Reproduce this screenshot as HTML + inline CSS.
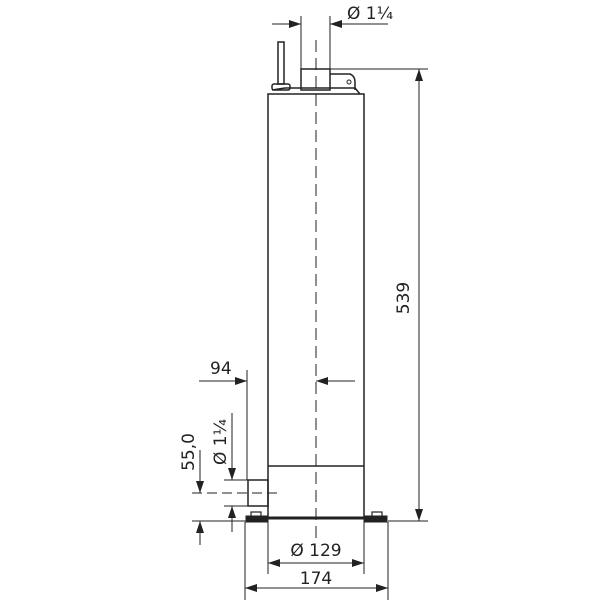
<!DOCTYPE html>
<html><head><style>body{margin:0;background:#fff}svg{display:block}text{font-family:"DejaVu Sans","Liberation Sans",sans-serif;fill:#222;stroke:none}</style></head>
<body>
<svg width="600" height="600" viewBox="0 0 600 600" xmlns="http://www.w3.org/2000/svg" stroke="#222" fill="none" stroke-width="1">
<defs>
<marker id="a" viewBox="0 0 12 8" refX="12" refY="4" markerWidth="12" markerHeight="8" orient="auto-start-reverse" markerUnits="userSpaceOnUse"><path d="M0,0 L12,4 L0,8 Z" fill="#222" stroke="none"/></marker>
</defs>
<!-- top dimension Ø1¼ -->
<line x1="272" y1="24" x2="301" y2="24" marker-end="url(#a)"/>
<line x1="330" y1="24" x2="388" y2="24" marker-start="url(#a)"/>
<line x1="301" y1="16" x2="301" y2="69"/>
<line x1="330" y1="16" x2="330" y2="69"/>
<text x="347" y="19" font-size="17">Ø 1¼</text>
<!-- cap -->
<rect x="301" y="69" width="29" height="21" stroke-width="1.5"/>
<path d="M330,74 L350,74 Q355,76 355,82 L355,90" stroke-width="1.5"/>
<circle cx="349" cy="82" r="2"/>
<path d="M272,90 L285,88 L355,88 L360,94" stroke-width="1.5"/>
<!-- cable -->
<rect x="278" y="42" width="6" height="42" stroke-width="1.5"/>
<rect x="272" y="84" width="18" height="6" rx="2" stroke-width="1.5"/>
<!-- body -->
<rect x="268" y="94" width="96" height="424" stroke-width="1.5"/>
<line x1="268" y1="466" x2="364" y2="466" stroke-width="1.5"/>
<line x1="316" y1="40" x2="316" y2="540" stroke-dasharray="12,6"/>
<!-- 539 -->
<line x1="330" y1="69" x2="428" y2="69"/>
<line x1="388" y1="521" x2="428" y2="521"/>
<line x1="419" y1="69" x2="419" y2="521" marker-start="url(#a)" marker-end="url(#a)"/>
<text transform="translate(409,298) rotate(-90)" font-size="17" text-anchor="middle">539</text>
<!-- base -->
<line x1="268" y1="518" x2="364" y2="518" stroke-width="3"/>
<rect x="246" y="516" width="22" height="6" fill="#222"/>
<rect x="364" y="516" width="23" height="6" fill="#222"/>
<rect x="251" y="512" width="10" height="5" stroke-width="1.2"/>
<rect x="372" y="512" width="10" height="5" stroke-width="1.2"/>
<!-- outlet -->
<rect x="248" y="480" width="20" height="26" stroke-width="1.5"/>
<line x1="192" y1="493" x2="278" y2="493" stroke-dasharray="10,5"/>
<!-- 94 -->
<line x1="199" y1="381" x2="247" y2="381" marker-end="url(#a)"/>
<line x1="247" y1="370" x2="247" y2="480"/>
<line x1="355" y1="381" x2="316" y2="381" marker-end="url(#a)"/>
<text x="210" y="374" font-size="17">94</text>
<!-- Ø1¼ side -->
<line x1="224" y1="480" x2="248" y2="480"/>
<line x1="224" y1="506" x2="248" y2="506"/>
<line x1="232" y1="413" x2="232" y2="480" marker-end="url(#a)"/>
<line x1="232" y1="532" x2="232" y2="506" marker-end="url(#a)"/>
<text transform="translate(226,442) rotate(-90)" font-size="17" text-anchor="middle">Ø 1¼</text>
<!-- 55,0 -->
<line x1="192" y1="521" x2="246" y2="521"/>
<line x1="200" y1="450" x2="200" y2="493" marker-end="url(#a)"/>
<line x1="200" y1="545" x2="200" y2="521" marker-end="url(#a)"/>
<text transform="translate(194,452) rotate(-90)" font-size="17" text-anchor="middle">55,0</text>
<!-- Ø129 -->
<line x1="268" y1="518" x2="268" y2="574"/>
<line x1="364" y1="518" x2="364" y2="574"/>
<line x1="268" y1="563" x2="364" y2="563" marker-start="url(#a)" marker-end="url(#a)"/>
<text x="316" y="556" font-size="17" text-anchor="middle">Ø 129</text>
<!-- 174 -->
<line x1="245" y1="522" x2="245" y2="600"/>
<line x1="388" y1="522" x2="388" y2="600"/>
<line x1="245" y1="588" x2="388" y2="588" marker-start="url(#a)" marker-end="url(#a)"/>
<text x="316" y="584" font-size="17" text-anchor="middle">174</text>
</svg>
</body></html>
